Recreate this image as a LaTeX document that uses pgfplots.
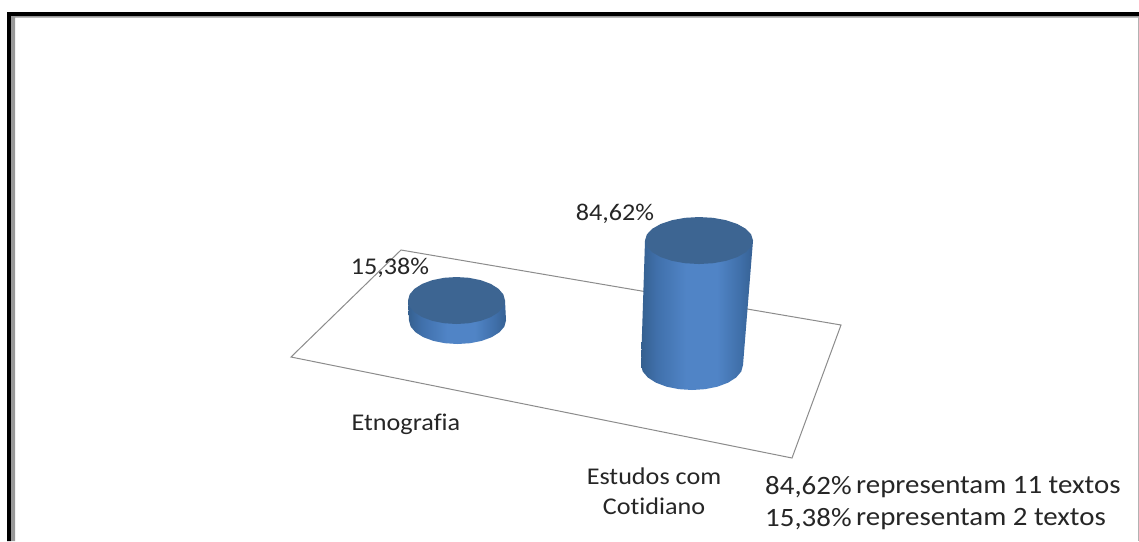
\documentclass[border=0pt]{standalone}
\usepackage{pgfplots}
\pgfplotsset{compat=1.18}
\usepackage{pgfplotstable}
\usepackage{fontspec}
\setmainfont{Carlito}[Ligatures=NoCommon]

\definecolor{capblue}{HTML}{3D6592}
\definecolor{edgeA}{HTML}{35608F}
\definecolor{edgeB}{HTML}{4070AB}
\definecolor{midblue}{HTML}{5084C6}
\definecolor{edgeC}{HTML}{4070AA}
\definecolor{edgeD}{HTML}{366194}
\definecolor{floorline}{HTML}{8C8C8C}

\pgfdeclarehorizontalshading{cylbody}{100bp}{
  color(0bp)=(edgeA); color(25bp)=(edgeA); color(32bp)=(edgeB);
  color(45bp)=(midblue); color(59bp)=(midblue); color(69bp)=(edgeC);
  color(75bp)=(edgeD); color(100bp)=(edgeD)}

\tikzset{
  chartlabel/.style={font=\fontsize{24}{28}\selectfont, text=black!85, inner sep=0pt, xscale=1.09},
  notelabel/.style={font=\fontsize{26.5}{30}\selectfont, text=black!85, inner sep=0pt, xscale=1.09, anchor=west},
}

% Outline of a cylinder side: u,v on the unit circle, t = 0 at the base, 1 at the top
\pgfplotstableread{
u v t
-1 0 0
-0.9659 0.2588 0
-0.8660 0.5 0
-0.7071 0.7071 0
-0.5 0.8660 0
-0.2588 0.9659 0
0 1 0
0.2588 0.9659 0
0.5 0.8660 0
0.7071 0.7071 0
0.8660 0.5 0
0.9659 0.2588 0
1 0 0
1 0 1
-1 0 1
}\sideoutline

% Outline of the top face
\pgfplotstableread{
u v
1 0
0.9659 0.2588
0.8660 0.5
0.7071 0.7071
0.5 0.8660
0.2588 0.9659
0 1
-0.2588 0.9659
-0.5 0.8660
-0.7071 0.7071
-0.8660 0.5
-0.9659 0.2588
-1 0
-0.9659 -0.2588
-0.8660 -0.5
-0.7071 -0.7071
-0.5 -0.8660
-0.2588 -0.9659
0 -1
0.2588 -0.9659
0.5 -0.8660
0.7071 -0.7071
0.8660 -0.5
0.9659 -0.2588
1 0
}\topoutline

% #1 value, #2 height per unit, #3,#4 base centre, #5,#6 base radii,
% #7 top centre x, #8,#9 top radii
\newcommand{\cylinder}[9]{
  \addplot[draw=none, shade, shading=cylbody, shading angle=0] table[
    x expr={(1-\thisrow{t})*(#3+#5*\thisrow{u})+\thisrow{t}*(#7+#8*\thisrow{u})},
    y expr={#4+(1-\thisrow{t})*#6*\thisrow{v}-\thisrow{t}*#1*#2}
  ] {\sideoutline} -- cycle;
  \addplot[draw=none, fill=capblue] table[
    x expr={#7+#8*\thisrow{u}},
    y expr={#4-#1*#2+#9*\thisrow{v}}
  ] {\topoutline} -- cycle;
}

\begin{document}
\begin{tikzpicture}
\begin{axis}[
  scale only axis, width=1139pt, height=541pt,
  xmin=0, xmax=1139, ymin=0, ymax=541, y dir=reverse,
  hide axis, clip=true,
]
% page background
\addplot[draw=none, fill=white] coordinates {(0,0) (1139,0) (1139,541) (0,541)} -- cycle;

% frame
\addplot[draw=none, fill=black] coordinates {(7,12) (1139,12) (1139,16) (11,16) (11,541) (7,541)} -- cycle;
\addplot[draw=none, fill=black!40] coordinates {(11,16) (1139,16) (1139,17.5) (15,17.5) (15,541) (11,541)} -- cycle;
\addplot[draw=none, fill=black!30] coordinates {(1137.5,17) (1139,17) (1139,541) (1137.5,541)} -- cycle;

% plot floor
\addplot[floorline, line width=1pt] coordinates {(401,250) (841,325) (792,458) (291,357)} -- cycle;

% value, height per unit, base and top geometry of each cylinder
\cylinder{15.38}{1.30}{457.5}{320.5}{48.5}{23.5}{456.5}{48.5}{23.5}
\cylinder{84.62}{1.471}{692}{365}{51}{25}{699}{54}{23.5}

\node[chartlabel] at (axis cs:390,267.5) {15,38\%};
\node[chartlabel] at (axis cs:615,213.5) {84,62\%};
\node[chartlabel] at (axis cs:406,424.5) {Etnografia};
\node[chartlabel] at (axis cs:654,476.5) {Estudos com};
\node[chartlabel] at (axis cs:654,506.5) {Cotidiano};
\node[notelabel] at (axis cs:765,487) {84,62\%};
\node[notelabel] at (axis cs:856,487) {representam 11 textos};
\node[notelabel] at (axis cs:765,519) {15,38\%};
\node[notelabel] at (axis cs:856,519) {representam 2 textos};
\end{axis}
\end{tikzpicture}
\end{document}
